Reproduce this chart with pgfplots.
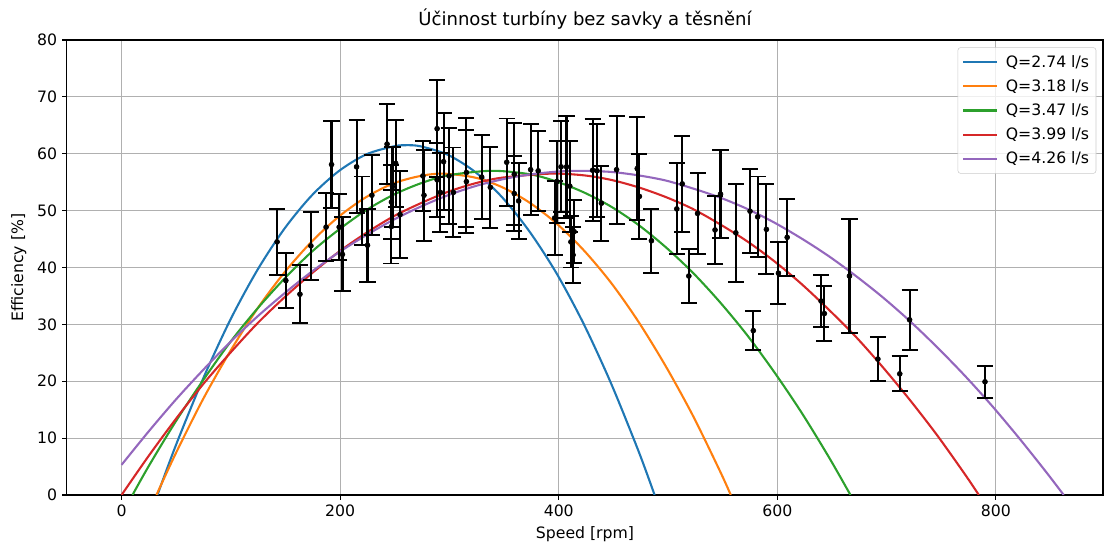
\documentclass[border=0pt]{standalone}
\usepackage{fontspec}
\setmainfont{DejaVu Sans}
\usepackage{pgfplots}
\usepackage{pgfplotstable}
\pgfplotsset{compat=1.18}
\definecolor{c1}{HTML}{1F77B4}
\definecolor{c2}{HTML}{FF7F0E}
\definecolor{c3}{HTML}{2CA02C}
\definecolor{c4}{HTML}{D62728}
\definecolor{c5}{HTML}{9467BD}
\definecolor{gridc}{HTML}{B0B0B0}

\pgfplotstableread{
x y e
142.3 44.5 5.8
150.3 37.7 4.8
163.2 35.3 5.1
173.2 43.8 6.0
187.1 47.1 6.0
192.1 58.1 7.7
199.1 47.1 5.8
202.1 42.3 6.5
215 57.7 8.2
220 50.0 6.0
225 43.9 6.4
229 52.7 7.0
242.9 61.7 7.1
246.9 47.2 6.5
246.9 51.5 6.5
247.9 54.2 7.0
250.8 58.3 7.6
254.8 49.3 7.6
275.7 56.1 6.2
276.7 52.7 8.0
288.7 64.4 8.5
288.7 55.4 6.5
291.7 53.2 7.0
294.6 58.6 8.5
299.6 56.1 8.5
303.6 53.2 7.9
315.5 56.7 9.6
315.5 55.1 9.0
329.5 55.9 7.4
337.4 54.1 7.1
352.4 58.5 7.7
359.3 56.4 9.0
359.3 53.0 6.6
363.3 51.7 6.7
374.3 57.2 8.0
381.2 57.0 7.0
396.2 48.7 6.5
398.2 55.1 7.2
402.1 57.7 8.0
407.1 57.7 9.0
410.1 54.3 8.0
411.1 44.5 4.5
413.1 42.2 5.0
414.1 46.3 5.5
431 57.1 9.0
435 57.0 8.2
439 51.3 6.6
452.9 57.2 9.5
471.8 57.4 9.0
473.8 52.5 7.5
484.8 44.7 5.6
508 50.3 8.0
513 54.7 8.5
519 38.5 4.8
527 49.5 7.1
543 46.6 6.0
548 52.9 7.7
562 46.1 8.6
575 49.9 7.4
578 28.9 3.4
582 48.9 7.1
590 46.7 7.9
601 39.0 5.5
609 45.3 6.8
640 34.1 4.6
643 31.9 4.9
666 38.5 10.1
692 23.9 3.9
712 21.3 3.1
721 30.8 5.3
790 19.9 2.8
}\meas

\pgfplotstableread{
x y
32.8 0.0
49.8 8.8
74.7 20.5
99.5 30.8
124.4 39.6
149.3 46.9
174.2 52.7
199.1 57.0
224.0 59.9
248.9 61.3
260.3 61.5
273.7 61.3
298.6 59.8
323.5 56.8
348.4 52.3
373.3 46.3
398.2 38.9
423.0 30.0
447.9 19.6
472.8 7.8
487.7 0.0
}\qa

\pgfplotstableread{
x y
31.9 0.0
49.8 7.4
74.7 16.9
99.5 25.3
124.4 32.8
149.3 39.2
174.2 44.6
199.1 49.0
224.0 52.4
248.9 54.8
273.7 56.1
294.6 56.5
323.5 55.8
348.4 54.1
373.3 51.4
398.2 47.7
423.0 43.0
447.9 37.3
472.8 30.5
497.7 22.7
522.6 14.0
547.5 4.2
557.4 0.0
}\qb

\pgfplotstableread{
x y
10.0 0.0
24.9 5.1
49.8 13.0
74.7 20.2
99.5 26.9
124.4 32.8
149.3 38.1
174.2 42.8
199.1 46.7
224.0 50.1
248.9 52.8
273.7 54.8
298.6 56.2
338.4 57.0
373.3 56.4
398.2 55.1
423.0 53.2
447.9 50.7
472.8 47.5
497.7 43.6
522.6 39.1
547.5 33.9
572.4 28.1
597.2 21.6
622.1 14.5
647.0 6.7
666.9 0.0
}\qc

\pgfplotstableread{
x y
0.0 0.0
24.9 6.9
49.8 13.4
74.7 19.5
99.5 25.0
124.4 30.2
149.3 34.8
174.2 39.0
199.1 42.8
224.0 46.1
248.9 49.0
273.7 51.3
298.6 53.3
323.5 54.8
348.4 55.8
392.2 56.5
423.0 56.2
447.9 55.4
472.8 54.1
497.7 52.4
522.6 50.3
547.5 47.6
572.4 44.6
597.2 41.1
622.1 37.1
647.0 32.6
671.9 27.8
696.8 22.4
721.7 16.6
746.6 10.4
771.4 3.7
784.4 0.0
}\qd

\pgfplotstableread{
x y
0.0 5.3
24.9 11.2
49.8 16.8
74.7 22.0
99.5 26.9
124.4 31.4
149.3 35.5
174.2 39.3
199.1 42.7
224.0 45.7
248.9 48.4
273.7 50.7
298.6 52.7
323.5 54.3
348.4 55.5
373.3 56.35
398.2 56.85
420.1 57.0
447.9 56.8
472.8 56.2
497.7 55.3
522.6 53.9
547.5 52.3
572.4 50.3
597.2 47.9
622.1 45.1
647.0 42.0
671.9 38.5
696.8 34.7
721.7 30.5
746.6 25.9
771.4 21.0
796.3 15.7
821.2 10.0
846.1 4.0
862.0 0.0
}\qe

\begin{document}
\begin{tikzpicture}
\begin{axis}[
  scale only axis,
  width=746pt, height=327.6pt,
  xmin=-50, xmax=898, ymin=0, ymax=80,
  xtick={0,200,400,600,800},
  ytick={0,10,20,30,40,50,60,70,80},
  tick align=outside,
  tick pos=left,
  major tick length=3.5pt,
  every tick/.style={black, line width=0.8pt},
  axis line style={black, line width=0.8pt},
  grid=major,
  major grid style={gridc, line width=0.8pt},
  /pgf/number format/assume math mode=true,
  tick label style={font=\fontsize{11.3}{13.6}\selectfont},
  xlabel={Speed [rpm]},
  ylabel={Efficiency [\%]},
  label style={font=\fontsize{11.3}{13.6}\selectfont},
  xlabel style={yshift=0pt},
  ylabel style={yshift=1pt},
  title={Účinnost turbíny bez savky a těsnění},
  title style={font=\fontsize{13}{15.6}\selectfont, yshift=-2pt},
  legend style={at={(0.9935,0.984)}, anchor=north east, draw=black!20,
    rounded corners=2pt, font=\fontsize{11.3}{13.6}\selectfont,
    row sep=3.3pt, column sep=3.5pt, inner xsep=3pt, inner ysep=3.5pt,
    fill=white, fill opacity=0.8, text opacity=1},
  legend cell align=left,
  legend image code/.code={\draw[#1, line width=1.5pt] (0pt,0pt) -- (24.5pt,0pt);},
]
\addplot[c1, line width=1.5pt, smooth] table {\qa};
\addplot[c2, line width=1.5pt, smooth] table {\qb};
\addplot[c3, line width=1.5pt, smooth] table {\qc};
\addplot[c4, line width=1.5pt, smooth] table {\qd};
\addplot[c5, line width=1.5pt, smooth] table {\qe};
\addplot[forget plot, only marks, mark=*, mark size=1.8pt, black,
  error bars/.cd, y dir=both, y explicit,
  error bar style={line width=1.5pt, black},
  error mark options={rotate=90, black, mark size=5.8pt, line width=1.4pt}]
  table[x=x, y=y, y error=e] {\meas};
\legend{Q=2.74 l/s, Q=3.18 l/s, Q=3.47 l/s, Q=3.99 l/s, Q=4.26 l/s}
\end{axis}
\pgfresetboundingbox
\path ([shift={(-48.2pt,-36.7pt)}]current axis.south west) rectangle ([shift={(0.7pt,28.8pt)}]current axis.north east);
\end{tikzpicture}
\end{document}
